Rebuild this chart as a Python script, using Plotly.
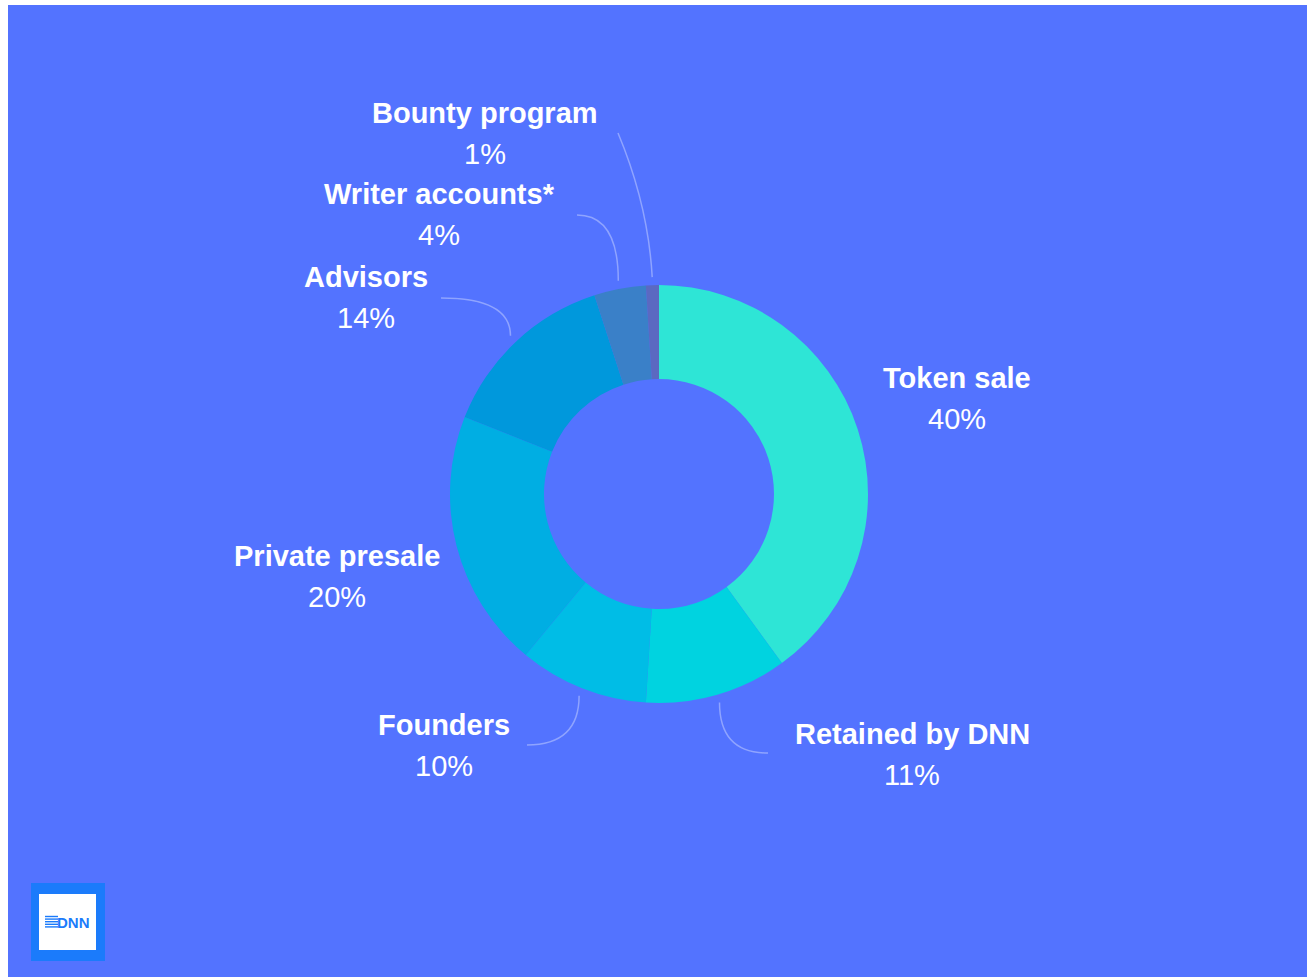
import math
import plotly.graph_objects as go

# ---- data ----
labels = ["Token sale", "Retained by DNN", "Founders", "Private presale",
          "Advisors", "Writer accounts*", "Bounty program"]
values = [40, 11, 10, 20, 14, 4, 1]
colors = ["#2EE5D6", "#00D3E0", "#00BDE6", "#00AEE3", "#0098DC", "#3A80C8", "#5B69C1"]

# ---- layout / style (pixel positions of label centres) ----
W, H = 1309, 977
BG = "#5373FF"
cx, cy, R, r_in = 659, 494, 209, 115
label_pos = {
    "Token sale": (957, 378),
    "Retained by DNN": (912, 734),
    "Founders": (444, 725),
    "Private presale": (337, 556),
    "Advisors": (366, 277),
    "Writer accounts*": (439, 194),
    "Bounty program": (485, 113),
}
# leader line end points and curve style (None = no connector)
leader_end = {
    "Retained by DNN": ((768, 753), "elbow"),
    "Founders": ((527, 745), "elbow"),
    "Advisors": ((441, 298), "elbow"),
    "Writer accounts*": ((577, 215), "elbow"),
    "Bounty program": ((618, 133), "soft"),
}
LINE_GAP = 41
FS = 29
FONT = "Liberation Sans, Arial"


def px(x):
    return x / W


def py(y):
    return 1 - y / H


fig = go.Figure()
fig.add_trace(go.Pie(
    labels=labels, values=values, sort=False, direction="clockwise", rotation=0,
    hole=r_in / R, textinfo="none", hoverinfo="label+percent",
    marker=dict(colors=colors, line=dict(width=0)),
    domain=dict(x=[px(cx - R), px(cx + R)], y=[py(cy + R), py(cy - R)]),
    showlegend=False,
))

shapes = [
    dict(type="rect", xref="paper", yref="paper", x0=px(8), x1=px(1307),
         y0=py(977), y1=py(5), fillcolor=BG, line=dict(width=0), layer="below"),
    # logo
    dict(type="rect", xref="paper", yref="paper", x0=px(31), x1=px(105),
         y0=py(961), y1=py(883), fillcolor="#1B7BFB", line=dict(width=0), layer="above"),
    dict(type="rect", xref="paper", yref="paper", x0=px(39), x1=px(96),
         y0=py(950), y1=py(894), fillcolor="#FFFFFF", line=dict(width=0), layer="above"),
]
for i in range(5):
    yy = 916.5 + i * 2.6
    shapes.append(dict(type="line", xref="paper", yref="paper", x0=px(45), x1=px(58),
                       y0=py(yy), y1=py(yy), line=dict(color="#1B7BFB", width=1.4),
                       layer="above"))


def ann(text, x, y, size, color="white"):
    return dict(text=text, x=px(x), y=py(y), xref="paper", yref="paper",
                xanchor="center", yanchor="middle", showarrow=False,
                font=dict(family=FONT, size=size, color=color))


annotations = [ann("<b>DNN</b>", 73.5, 922, 15, "#1B7BFB")]

total = sum(values)
cum = 0
for lab, v in zip(labels, values):
    mid = (cum + v / 2) / total * 2 * math.pi
    cum += v
    lx, ly = label_pos[lab]
    annotations.append(ann(f"<b>{lab}</b>", lx, ly, FS))
    annotations.append(ann(f"{v}%", lx, ly + LINE_GAP, FS))
    if lab in leader_end:
        (ex, ey), style = leader_end[lab]
        sx = cx + (R + 8) * math.sin(mid)
        sy = cy - (R + 8) * math.cos(mid)
        if style == "elbow":
            qx, qy = sx, ey
        else:
            qx, qy = sx - 4, (sy + ey) / 2
        path = f"M {sx:.1f},{sy:.1f} Q {qx:.1f},{qy:.1f} {ex:.1f},{ey:.1f}"
        shapes.append(dict(type="path", xref="x", yref="y", path=path,
                           line=dict(color="rgba(255,255,255,0.35)", width=1.5)))

fig.update_layout(
    width=W, height=H, margin=dict(l=0, r=0, t=0, b=0),
    paper_bgcolor="white", plot_bgcolor="rgba(0,0,0,0)",
    xaxis=dict(range=[0, W], visible=False, domain=[0, 1], fixedrange=True),
    yaxis=dict(range=[H, 0], visible=False, domain=[0, 1], fixedrange=True),
    shapes=shapes, annotations=annotations,
)
fig.write_html("out.html")
